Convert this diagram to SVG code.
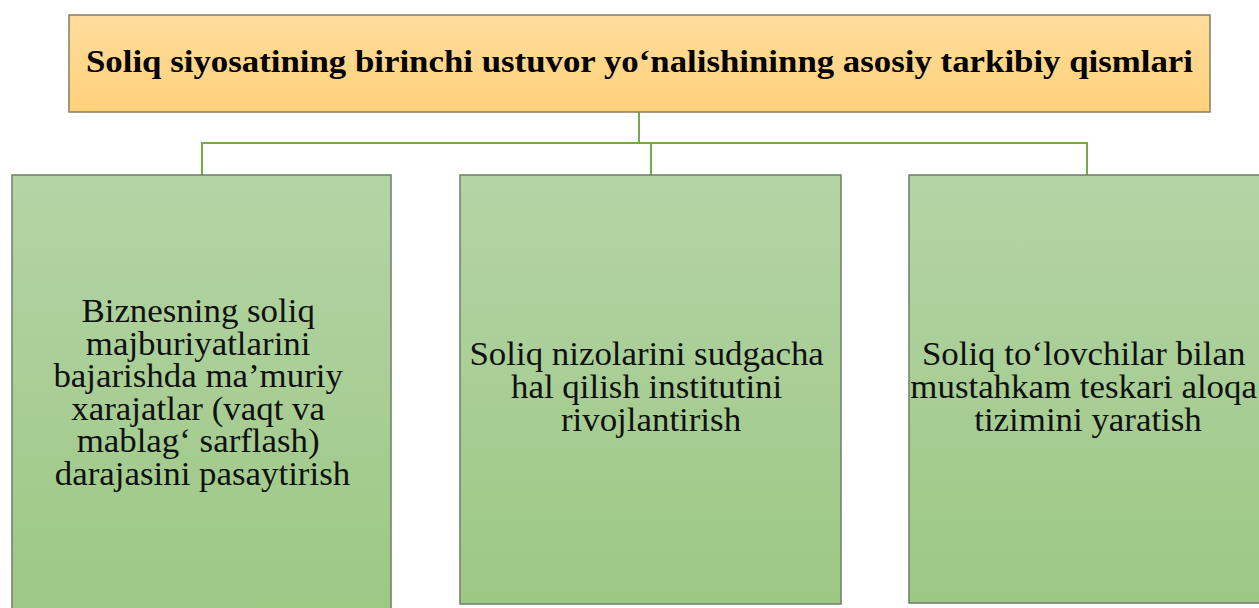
<svg xmlns="http://www.w3.org/2000/svg" width="1259" height="608" viewBox="0 0 1259 608">
<defs>
<linearGradient id="gOrange" x1="0" y1="0" x2="0" y2="1">
<stop offset="0" stop-color="#FEDC9C"/>
<stop offset="1" stop-color="#FFD27A"/>
</linearGradient>
<linearGradient id="gGreen" x1="0" y1="0" x2="0" y2="1">
<stop offset="0" stop-color="#B5D4A6"/>
<stop offset="1" stop-color="#9CC884"/>
</linearGradient>
</defs>
<style>
.top{fill:url(#gOrange);stroke:#857C62;stroke-width:1.5}
.box{fill:url(#gGreen);stroke:#6E7F66;stroke-width:1.5}
.title{font-family:"Liberation Serif","Times New Roman",serif;font-weight:bold;font-size:30.5px;fill:#000;text-anchor:middle}
.lbl{font-family:"Liberation Serif","Times New Roman",serif;font-size:33px;fill:#111;text-anchor:middle}
.conn{fill:none;stroke:#70AD47;stroke-width:2}
</style>
<rect width="1259" height="608" fill="#ffffff"/>
<g id="connectors">
<path class="conn" d="M639 112 V143"/>
<path class="conn" d="M202 175 V143 H1087 V175"/>
<path class="conn" d="M651 143 V175"/>
</g>
<g id="title">
<rect class="top" x="69" y="15" width="1141" height="97"/>
<text class="title" x="639.5" y="72" textLength="1107" lengthAdjust="spacingAndGlyphs">Soliq siyosatining birinchi ustuvor yo‘nalishininng asosiy tarkibiy qismlari</text>
</g>
<g id="node1">
<rect class="box" x="12" y="175" width="379" height="440"/>
<text class="lbl" transform="translate(202.5 0) scale(1.057 1)">
<tspan x="0" y="322">Biznesning soliq</tspan>
<tspan x="0" y="354.6">majburiyatlarini</tspan>
<tspan x="0" y="387.2">bajarishda ma’muriy</tspan>
<tspan x="0" y="419.8">xarajatlar (vaqt va</tspan>
<tspan x="0" y="452.4">mablag‘ sarflash)</tspan>
<tspan x="0" y="485">darajasini pasaytirish</tspan>
</text>
</g>
<g id="node2">
<rect class="box" x="460" y="175" width="381" height="429"/>
<text class="lbl" transform="translate(651 0) scale(1.057 1)">
<tspan x="0" y="365">Soliq nizolarini sudgacha</tspan>
<tspan x="0" y="398">hal qilish institutini</tspan>
<tspan x="0" y="431">rivojlantirish</tspan>
</text>
</g>
<g id="node3">
<rect class="box" x="909" y="175" width="358" height="428"/>
<text class="lbl" transform="translate(1088 0) scale(1.057 1)">
<tspan x="0" y="365">Soliq to‘lovchilar bilan</tspan>
<tspan x="0" y="398">mustahkam teskari aloqa</tspan>
<tspan x="0" y="431">tizimini yaratish</tspan>
</text>
</g>
</svg>
